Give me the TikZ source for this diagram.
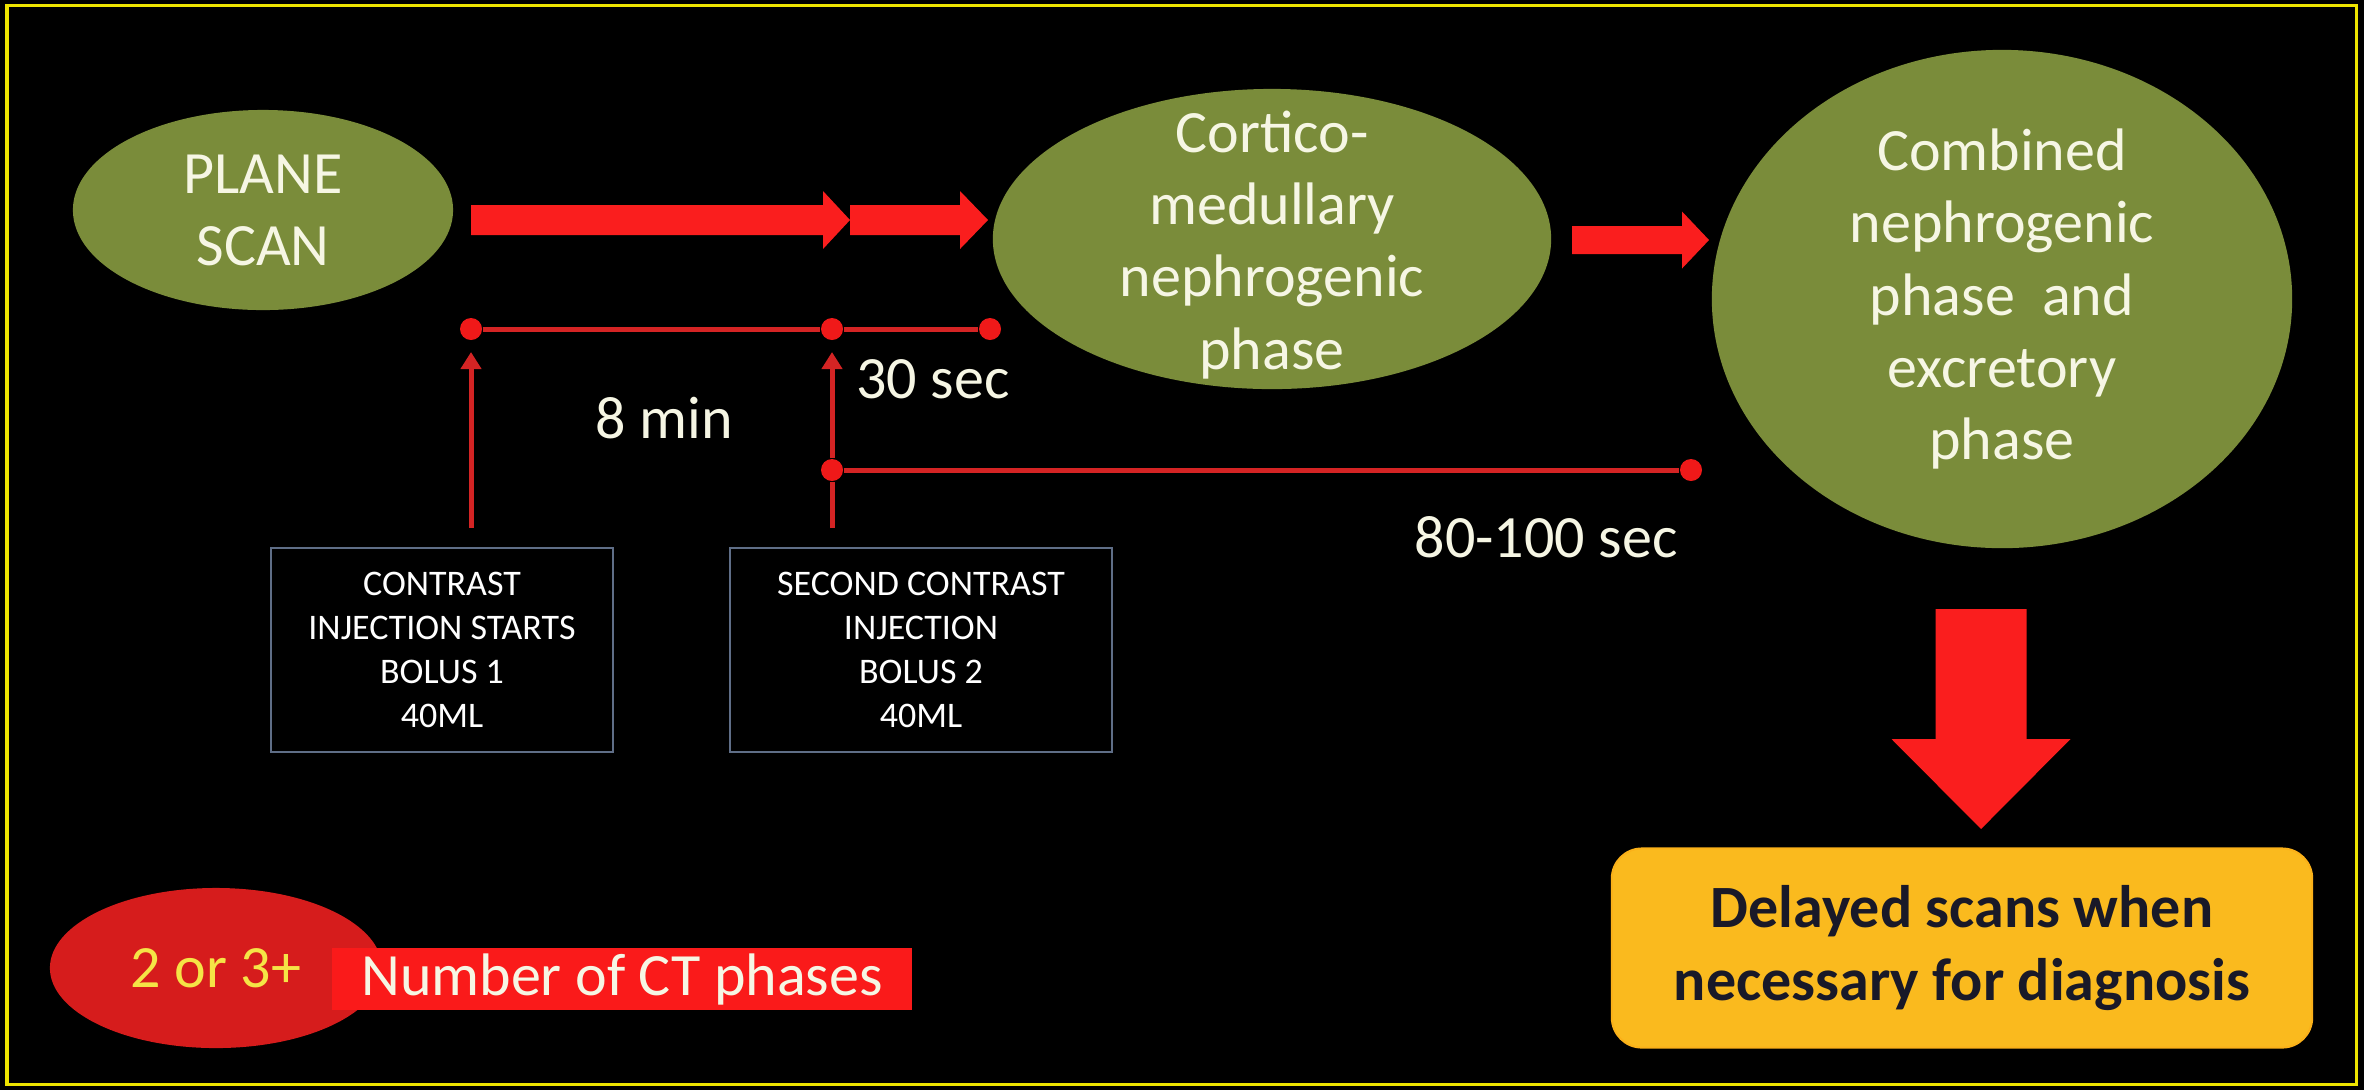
\documentclass[tikz,border=0pt]{standalone}
\usepackage{fontspec}
\setmainfont{Carlito}
\usetikzlibrary{shapes.geometric,arrows.meta}

\definecolor{phasegreen}{RGB}{122,140,58}
\definecolor{cream}{RGB}{246,246,228}
\definecolor{bigred}{RGB}{250,30,30}
\definecolor{linered}{RGB}{212,36,36}
\definecolor{dotred}{RGB}{240,25,25}
\definecolor{ovalred}{RGB}{214,28,28}
\definecolor{rectred}{RGB}{250,26,26}
\definecolor{boxedge}{RGB}{95,110,135}
\definecolor{gold}{RGB}{250,186,30}
\definecolor{ink}{RGB}{25,25,40}
\definecolor{countyellow}{RGB}{245,228,70}
\definecolor{frameyellow}{RGB}{238,228,0}

\newcommand{\phasefont}{\fontsize{17.07}{20.5}\selectfont}
\newcommand{\bolusfont}{\fontsize{10.24}{12.5}\selectfont}

\begin{document}
\begin{tikzpicture}[x=0.01cm,y=-0.01cm,
  phase/.style={ellipse,fill=phasegreen,inner sep=0},
  phasetext/.style={text=cream,align=center,inner sep=0,font=\phasefont},
  bolus/.style={draw=boxedge,line width=0.2mm,text=white,align=center,inner sep=0,font=\bolusfont},
  timeline/.style={linered,line width=0.5mm},
  dot/.style={circle,fill=dotred,inner sep=0,minimum size=2.2mm},
  timetext/.style={text=cream,anchor=base,font=\phasefont}]

\fill [black] (0,0) rectangle (2364,1090);
\draw [frameyellow,line width=0.3mm] (7,5) rectangle (2356,1084);

\node [phase,minimum width=3.8cm,minimum height=2cm] (plane) at (263,210) {};
\node [phasetext] (planetext) at (plane) {PLANE\\SCAN};

\node [phase,minimum width=5.58cm,minimum height=3cm] (cortico) at (1272,239) {};
\node [phasetext] (corticotext) at (1272,245) {Cortico-\\medullary\\nephrogenic\\phase};

\node [phase,minimum width=5.8cm,minimum height=4.98cm] (combined) at (2002,299) {};
\node [phasetext] (combinedtext) at (combined) {Combined\\nephrogenic\\phase\ \ and\\excretory\\phase};

\coordinate (a1) at (471,220);
\coordinate (a2) at (850,220);
\coordinate (a3) at (1572,240);
\coordinate (a4) at (1981,609);

\fill [bigred] (a1) ++(0,-15) -- ++(352,0) -- ++(0,-14) -- ++(27,29) -- ++(-27,29) -- ++(0,-14) -- ++(-352,0) -- cycle;
\fill [bigred] (a2) ++(0,-15) -- ++(110,0) -- ++(0,-14) -- ++(28,29) -- ++(-28,29) -- ++(0,-14) -- ++(-110,0) -- cycle;
\fill [bigred] (a3) ++(0,-14) -- ++(110,0) -- ++(0,-14.5) -- ++(27,28.5) -- ++(-27,28.5) -- ++(0,-14.5) -- ++(-110,0) -- cycle;
\fill [bigred] (a4) ++(-45.5,0) -- ++(0,130) -- ++(-44,0) -- ++(89.5,90) -- ++(89.5,-90) -- ++(-44,0) -- ++(0,-130) -- cycle;

\node [dot] (t1) at (471,329) {};
\node [dot] (t2) at (832,329) {};
\node [dot] (t3) at (990,329) {};
\node [dot] (d1) at (832,470) {};
\node [dot] (d2) at (1691,470) {};

\coordinate (b1) at (471,528);
\coordinate (b2) at (832,528);
\coordinate (up1) at (471,352);
\coordinate (up2) at (832,352);

\draw [timeline] (t1) -- (t2) -- (t3);
\draw [timeline] (d1) -- (d2);
\draw [timeline,arrows=-{Triangle[length=1.7mm,width=2mm]}] (b1) -- (up1);
\draw [timeline] (b2) -- (d1);
\draw [timeline,arrows=-{Triangle[length=1.7mm,width=2mm]}] (d1) -- (up2);

\node [timetext] (eightmin) at (664,438) {8 min};
\node [timetext] (thirtysec) at (933,398) {30 sec};
\node [timetext] (eightysec) at (1546,557) {80-100 sec};

\node [bolus,minimum width=3.42cm,minimum height=2.03cm] (bolus1) at (442,650) {CONTRAST\\INJECTION STARTS\\BOLUS 1\\40ML};
\node [bolus,minimum width=3.81cm,minimum height=2.03cm] (bolus2) at (921,650) {SECOND CONTRAST\\INJECTION\\BOLUS 2\\40ML};

\node [fill=gold,draw=gold!85!orange,line width=0.2mm,rounded corners=0.3cm,minimum width=7cm,minimum height=1.99cm,text=ink,align=center,font=\phasefont\bfseries] (delayed) at (1962,948) {Delayed scans when\\necessary for diagnosis};

\node [ellipse,fill=ovalred,inner sep=0,minimum width=3.32cm,minimum height=1.6cm,text=countyellow,font=\phasefont] (count) at (216,968) {2 or 3+};
\node [fill=rectred,inner sep=0,minimum width=5.8cm,minimum height=0.62cm,text=cream,font=\phasefont] (number) at (622,979) {Number of CT phases};

\end{tikzpicture}
\end{document}
